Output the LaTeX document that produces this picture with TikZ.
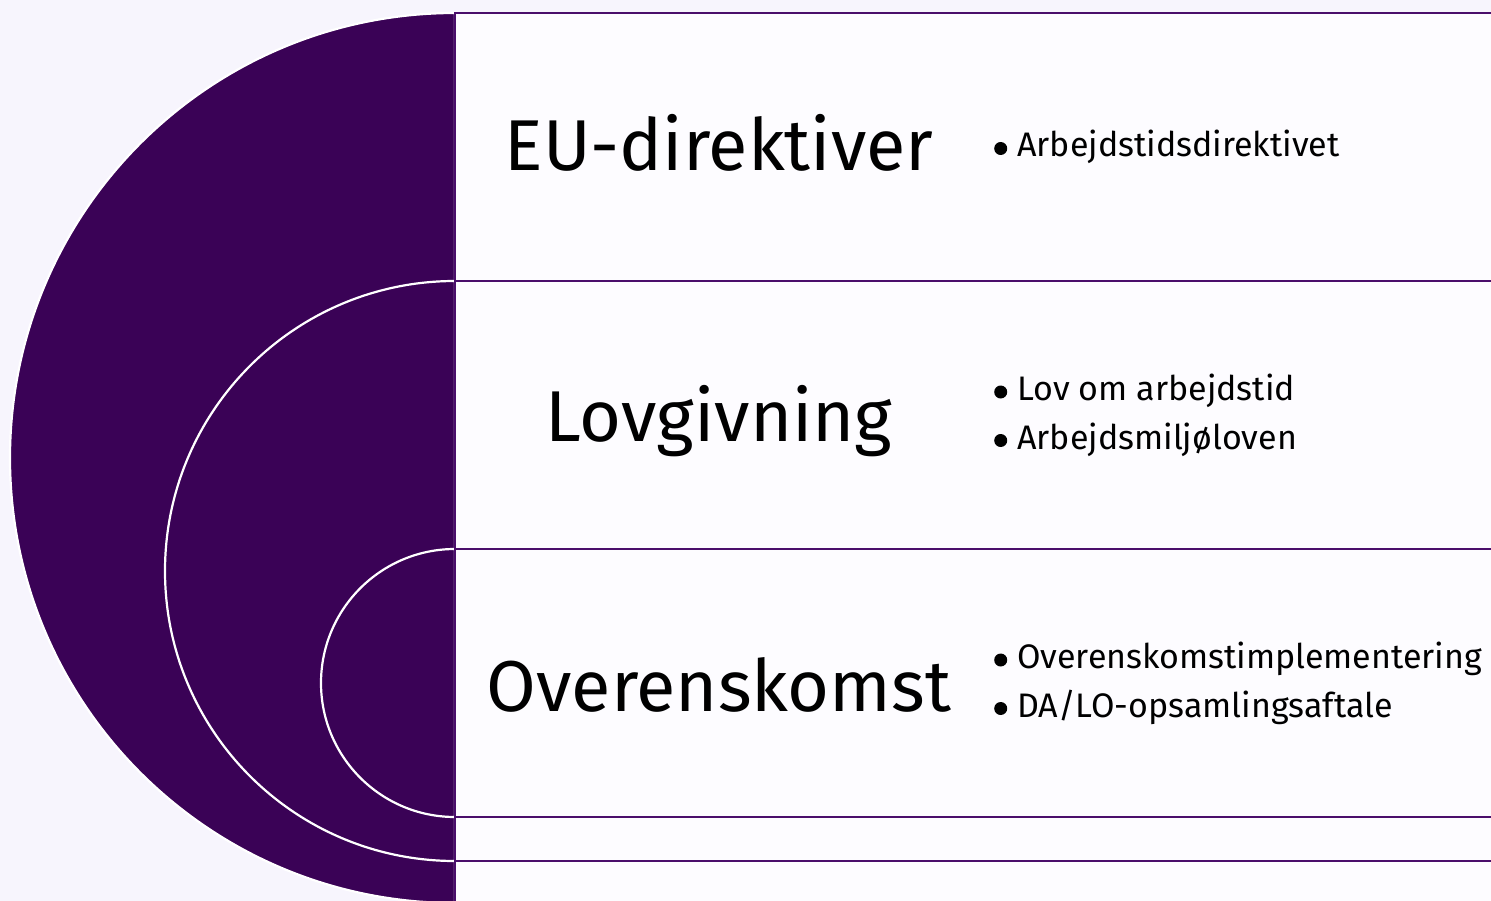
\documentclass[tikz,border=0pt]{standalone}
\usepackage{fontspec}
\setmainfont{Fira Sans}
\definecolor{bg}{HTML}{F7F5FD}
\definecolor{deep}{HTML}{3A0256}
\definecolor{edge}{HTML}{4A0E6B}
\definecolor{boxfill}{HTML}{FDFCFF}
\newcommand{\dotmark}{\tikz[baseline=-8.5pt]\fill[black] (0,0) circle[radius=6.5pt];\hspace{10pt}}
\begin{document}
\begin{tikzpicture}[x=1pt,y=-1pt,
  disc/.style={fill=deep,draw=white,line width=2.2pt},
  panel/.style={fill=boxfill,draw=edge,line width=2.2pt},
  title/.style={anchor=base,inner sep=0pt,font=\fontsize{72}{80}\selectfont},
  item/.style={anchor=base west,inner sep=0pt,align=left,font=\fontsize{34}{48.5}\selectfont}]
\useasboundingbox (0,0) rectangle (1491,901);
\clip (0,0) rectangle (1491,901);
\fill[bg] (0,0) rectangle (1491,901);
% nested half discs
\draw[disc] (455,13) arc[start angle=270,end angle=90,radius=445] -- cycle;
\draw[disc] (455,281) arc[start angle=270,end angle=90,radius=290] -- cycle;
\draw[disc] (455,549) arc[start angle=270,end angle=90,radius=134] -- cycle;
% panels
\draw[panel] (455,13) rectangle (1520,903);
\draw[panel] (455,281) rectangle (1520,861);
\draw[panel] (455,549) rectangle (1520,817);
% titles
\node[title] (t1) at (719,171) {EU-direktiver};
\node[title] (t2) at (719,441) {Lovgivning};
\node[title] (t3) at (719,711) {Overenskomst};
% items (base anchor is the last line's baseline)
\node[item] (i1) at (994,157) {\dotmark Arbejdstidsdirektivet};
\node[item] (i2) at (994,449) {\dotmark Lov om arbejdstid\\\dotmark Arbejdsmiljøloven};
\node[item] (i3) at (994,717) {\dotmark Overenskomstimplementering\\\dotmark DA/LO-opsamlingsaftale};
\end{tikzpicture}
\end{document}
